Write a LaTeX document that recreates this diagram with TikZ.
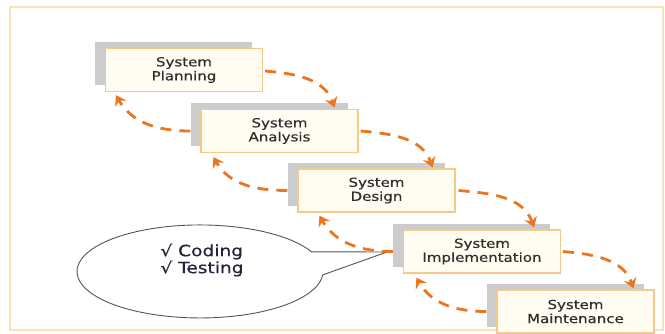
\documentclass[tikz,border=0pt]{standalone}
\usepackage{fontspec}
\setmainfont{DejaVu Sans}
\newfontfamily\stagefont[FakeStretch=1.2,FakeBold=0.5]{DejaVu Sans}
\usetikzlibrary{arrows.meta,calc}

\definecolor{flow}{HTML}{EC7520}
\definecolor{boxline}{HTML}{F5C98C}
\definecolor{boxfill}{HTML}{FFFDF1}
\definecolor{shadowgray}{HTML}{CCCCCC}
\definecolor{stagetext}{HTML}{2E2E2E}
\definecolor{notetext}{HTML}{22223A}
\definecolor{framecol}{HTML}{FAE1B8}
\definecolor{calloutline}{HTML}{555555}

\begin{document}
\begin{tikzpicture}[x=1pt,y=-1pt,
  stage/.style={draw=boxline, line width=1.2pt, fill=boxfill,
    minimum width=157pt, minimum height=43pt, inner sep=0pt,
    font=\stagefont\fontsize{12.5}{14}\selectfont, text=stagetext, align=center},
  backing/.style={fill=shadowgray, minimum width=157pt, minimum height=43pt, inner sep=0pt},
  flowarrow/.style={draw=flow, line width=2.8pt, dash pattern=on 11pt off 8pt,
    -{Stealth[length=10pt,width=13pt,inset=3.5pt]}}
]
\useasboundingbox (0,0) rectangle (665,333);

% outer frame
\draw[framecol, line width=2pt] (10,7) rectangle (663,330);

% speech bubble
\coordinate (calltip) at (387,252);
\draw[calloutline, line width=0.9pt, fill=white]
  (311.5,251.8) arc[start angle=-25, end angle=-355.7, x radius=123, y radius=46.5]
  -- (calltip) -- cycle;
\node[font=\stagefont\fontsize{15.5}{17}\selectfont, text=notetext, align=left]
  (note) at (202,260) {√ Coding\\√ Testing};

% stage boxes with their grey backing
\node[backing] (plansh)  at (173.5,63.5) {};
\node[stage]   (plan)    at (184,70) {System\\Planning};
\node[backing] (analsh)  at (269,124.5) {};
\node[stage]   (anal)    at (279.5,131) {System\\Analysis};
\node[backing] (dessh)   at (366,184) {};
\node[stage]   (des)     at (376.5,190.5) {System\\Design};
\node[backing] (implsh)  at (471.5,245) {};
\node[stage]   (impl)    at (482,251.5) {System\\Implementation};
\node[backing] (maintsh) at (565,305) {};
\node[stage]   (maint)   at (575.5,311.5) {System\\Maintenance};

% forward flow
\draw[flowarrow] ($(plan.east)+(2,1)$)  to[out=-5,in=110] ($(anal.north east)+(-24,-1.5)$);
\draw[flowarrow] ($(anal.east)+(2,0)$)  to[out=-5,in=110] ($(des.north east)+(-23,-1)$);
\draw[flowarrow] ($(des.east)+(3,0)$)   to[out=-5,in=110] ($(impl.north east)+(-27,-2)$);
\draw[flowarrow] ($(impl.east)+(2,0)$)  to[out=-5,in=110] ($(maint.north east)+(-21,-1)$);

% feedback flow
\draw[flowarrow] (analsh.west |- anal.west)   to[out=180,in=-60] ($(plan.south west)+(11,3)$);
\draw[flowarrow] (dessh.west |- des.west)     to[out=180,in=-60] ($(anal.south west)+(13,4)$);
\draw[flowarrow] (implsh.west |- impl.west)   to[out=180,in=-60] ($(des.south west)+(22,3)$);
\draw[flowarrow] (maintsh.west |- maint.west) to[out=180,in=-60] ($(impl.south west)+(13.5,4)$);
\end{tikzpicture}
\end{document}
